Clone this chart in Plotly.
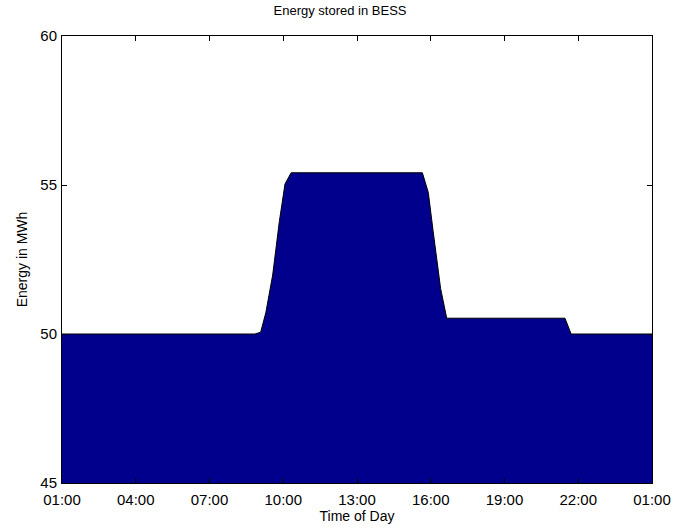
import plotly.graph_objects as go

# Time in hours (01:00 = 1, next-day 01:00 = 25)
hours = [1, 8.85, 9.08, 9.29, 9.57, 9.84, 10.07, 10.32, 15.66, 15.90, 16.10, 16.40, 16.65, 21.46, 21.71, 25]
energy = [50.0, 50.0, 50.06, 50.71, 51.98, 53.77, 55.03, 55.41, 55.41, 54.75, 53.43, 51.53, 50.53, 50.53, 50.0, 50.0]

x_tickvals = [1, 4, 7, 10, 13, 16, 19, 22, 25]
x_ticktext = ["01:00", "04:00", "07:00", "10:00", "13:00", "16:00", "19:00", "22:00", "01:00"]
y_tickvals = [45, 50, 55, 60]

font_family = "Liberation Sans, Arial, sans-serif"

fig = go.Figure()
fig.add_trace(go.Scatter(
    x=hours, y=energy, mode="lines",
    fill="tozeroy", fillcolor="#00008C",
    line=dict(color="black", width=1),
    showlegend=False, hoverinfo="skip",
))

axis_common = dict(
    showline=True, linecolor="black", linewidth=1, mirror="ticks",
    ticks="inside", ticklen=5, tickcolor="black",
    showgrid=False, zeroline=False, automargin=False,
    tickfont=dict(family=font_family, size=15, color="black"),
)

fig.update_layout(
    width=680, height=529,
    margin=dict(l=62, r=28, t=36, b=46),
    paper_bgcolor="white", plot_bgcolor="white",
    font=dict(family=font_family, size=13, color="black"),
    title=dict(text="Energy stored in BESS", x=0.5, xanchor="center",
               y=1 - 10 / 529, yanchor="middle",
               font=dict(family=font_family, size=13, color="black")),
    xaxis=dict(range=[1, 25], tickvals=x_tickvals, ticktext=x_ticktext,
               ticklabelstandoff=3,
               title=dict(text="Time of Day", standoff=3,
                          font=dict(family=font_family, size=14)),
               **axis_common),
    yaxis=dict(range=[45, 60], tickvals=y_tickvals,
               ticklabelstandoff=1,
               title=dict(text="Energy in MWh", standoff=9,
                          font=dict(family=font_family, size=14)),
               **axis_common),
)

fig.write_html("out.html")
